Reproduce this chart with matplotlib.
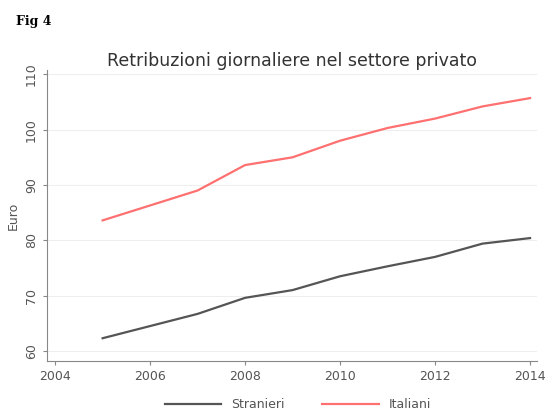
import numpy as np
import matplotlib.pyplot as plt

years = [2005, 2006, 2007, 2008, 2009, 2010, 2011, 2012, 2013, 2014]
stranieri = [62.3, 64.5, 66.7, 69.6, 71.0, 73.5, 75.3, 77.0, 79.4, 80.4]
italiani = [83.6, 86.3, 89.0, 93.6, 95.0, 98.0, 100.3, 102.0, 104.2, 105.7]

fig = plt.figure(figsize=(5.47, 4.12), dpi=100)
ax = fig.add_axes([0.086, 0.124, 0.896, 0.705])

ax.plot(years, stranieri, color='#555555', lw=1.6, label='Stranieri')
ax.plot(years, italiani, color='#ff7070', lw=1.6, label='Italiani')

ax.set_xlim(2003.83, 2014.15)
ax.set_ylim(58.2, 110.7)
ax.set_xticks([2004, 2006, 2008, 2010, 2012, 2014])
ax.set_yticks([60, 70, 80, 90, 100, 110])
ax.grid(axis='y', color='#eeeeee', lw=0.8)
ax.set_axisbelow(True)
for s in ['top', 'right']:
    ax.spines[s].set_visible(False)
for s in ['left', 'bottom']:
    ax.spines[s].set_color('#888888')
ax.tick_params(colors='#888888', labelcolor='#555555', labelsize=9, length=3)
plt.setp(ax.get_yticklabels(), rotation=90, va='center')
ax.set_ylabel('Euro', fontsize=9, color='#555555', labelpad=4)

ax.set_title('Retribuzioni giornaliere nel settore privato', fontsize=12.5,
             color='#333333', pad=3)
fig.text(0.03, 0.94, 'Fig 4', family='DejaVu Serif', fontweight='bold', fontsize=9)

fig.legend(loc='lower center', ncol=2, frameon=False, fontsize=9,
           bbox_to_anchor=(0.545, -0.025), handlelength=4.5, columnspacing=3,
           labelcolor='#555555')

fig.savefig('out.png', facecolor='white')
